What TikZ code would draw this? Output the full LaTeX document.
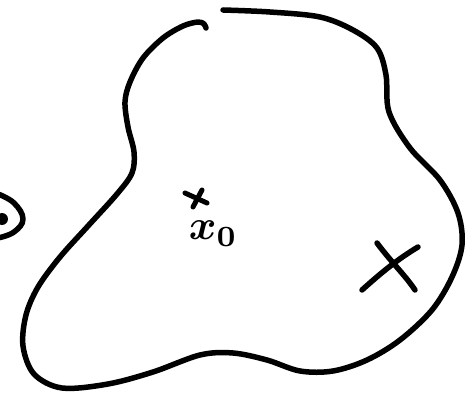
\documentclass[tikz,border=0pt]{standalone}
\usepackage{tikz}
\usetikzlibrary{positioning}
\tikzset{pen/.style={line width=5.5pt, line cap=round, line join=round},
  thinpen/.style={line width=5pt, line cap=round},
  lab/.style={font=\boldmath, scale=4.2, inner sep=0pt}}

\begin{document}
\begin{tikzpicture}[x=1pt, y={(0pt,-1pt)}]
  \useasboundingbox (0,0) rectangle (469,393);
  % region outline, open at the top
  \draw[pen] plot[smooth, tension=0.55] coordinates {
    (223,10) (270,12) (320,17) (353,30) (377,48) (386,75) (389,112)
    (410,148) (440,180) (458,213) (462,245) (452,277) (432,310)
    (400,340) (367,360) (333,371) (300,371) (267,360) (233,353)
    (200,355) (153,372) (108,384) (62,388) (34,374) (23,346)
    (26,315) (38,287) (60,257) (88,226) (117,194) (132,173)
    (134,152) (128,127) (125,102) (130,82) (143,58) (163,38)
    (183,26) (198,22) (204,24) (206,28)};
  % left piece, cut off by the edge
  \draw[pen] plot[smooth, tension=0.7] coordinates {
    (-2,194) (14,203) (23,219) (14,232) (-2,238)};
  \fill (2,219) circle (6pt);
  % small mark and its label
  \coordinate (p0) at (196,198);
  \draw[thinpen] (p0) ++(-11,-5) -- ++(22,10);
  \draw[thinpen] (p0) ++(6,-8) -- ++(-9,17);
  \node[lab, anchor=base west] (x0) at (188,240) {$x_0$};
  % big mark
  \coordinate (q) at (392,266);
  \draw[pen] (q) ++(-15,-23) .. controls ++(15,20) and ++(-10,-15) .. ++(38,47);
  \draw[pen] (q) ++(26,-19) .. controls ++(-20,12) and ++(20,-18) .. ++(-56,43);
\end{tikzpicture}
\end{document}
